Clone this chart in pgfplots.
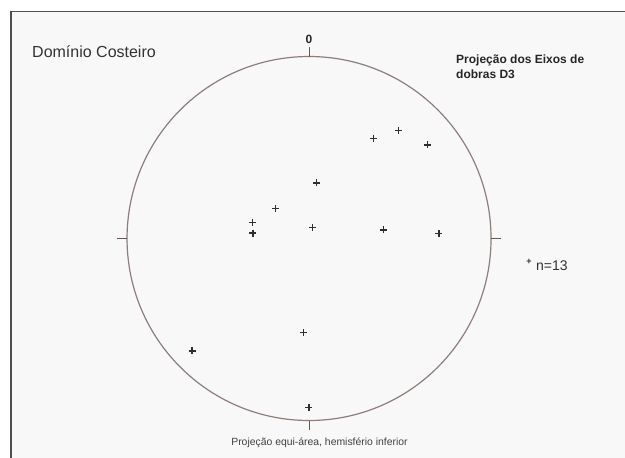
\documentclass[border=0pt]{standalone}
\usepackage{pgfplots}
\pgfplotsset{compat=1.18}
\usepackage{fontspec}
\setmainfont{Liberation Sans}
\definecolor{circ}{HTML}{8C7E7B}
\definecolor{frame}{HTML}{505050}
\definecolor{bg}{HTML}{F8F8F8}
\definecolor{pt}{HTML}{2E2E2E}

% D3 fold axes, lower-hemisphere equal-area net, unit circle coords
\pgfplotstableread{
x      y
0.353  0.551
0.493  0.595
0.651  0.514
0.042  0.305
-0.184 0.164
-0.310 0.087
-0.308 0.030
0.020  0.059
0.409  0.047
0.714  0.026
-0.030 -0.518
-0.643 -0.618
-0.001 -0.927
}\eixos

\begin{document}
\begin{tikzpicture}
\useasboundingbox (0,0) rectangle (625bp,458bp);
\fill[white] (0,0) rectangle (625bp,458bp);
\fill[bg] (11bp,0) rectangle (625bp,446.3bp);
\draw[frame, line width=1.5bp] (11bp,0) -- (11bp,446.3bp) -- (625bp,446.3bp);

\begin{axis}[
    at={(0,0)}, anchor=south west,
    x=182bp, y=182bp,
    xmin=-1.698, xmax=1.736,
    ymin=-1.206, ymax=1.310,
    hide axis, clip=false,
]
\draw[circ, line width=1.2bp] (axis cs:0,0) circle[radius=182bp];
\draw[circ!70!black, line width=1bp] (axis cs:0,1) -- (axis cs:0,1.05);
\draw[circ!70!black, line width=1bp] (axis cs:0,-1) -- (axis cs:0,-1.05);
\draw[circ!70!black, line width=1bp] (axis cs:-1,0) -- (axis cs:-1.055,0);
\draw[circ!70!black, line width=1bp] (axis cs:1,0) -- (axis cs:1.055,0);
\addplot[only marks, mark=+, mark size=3.5bp, pt, line width=1.4bp] table[x=x, y=y] {\eixos};
\end{axis}

\node[anchor=base west, inner sep=0, text=black!80] at (32bp,400.7bp)
  {\fontsize{16bp}{19bp}\selectfont Domínio Costeiro};
\node[anchor=base, inner sep=0, text=black!85] at (309bp,414.7bp)
  {\fontsize{12bp}{14bp}\selectfont\bfseries 0};
\node[anchor=base west, inner sep=0, text=black!85] at (456bp,394.7bp)
  {\fontsize{12bp}{14bp}\selectfont\bfseries Projeção dos Eixos de};
\node[anchor=base west, inner sep=0, text=black!85] at (456bp,379bp)
  {\fontsize{12bp}{14bp}\selectfont\bfseries dobras D3};
\node[inner sep=0, text=black!80] at (529bp,196bp)
  {\fontsize{9bp}{10bp}\selectfont\bfseries +};
\node[anchor=base west, inner sep=0, text=black!80] at (536bp,187.3bp)
  {\fontsize{14bp}{16bp}\selectfont n=13};
\node[anchor=base, inner sep=0, text=black!75] at (319.5bp,12.3bp)
  {\fontsize{10.4bp}{12bp}\selectfont Projeção equi-área, hemisfério inferior};
\end{tikzpicture}
\end{document}
